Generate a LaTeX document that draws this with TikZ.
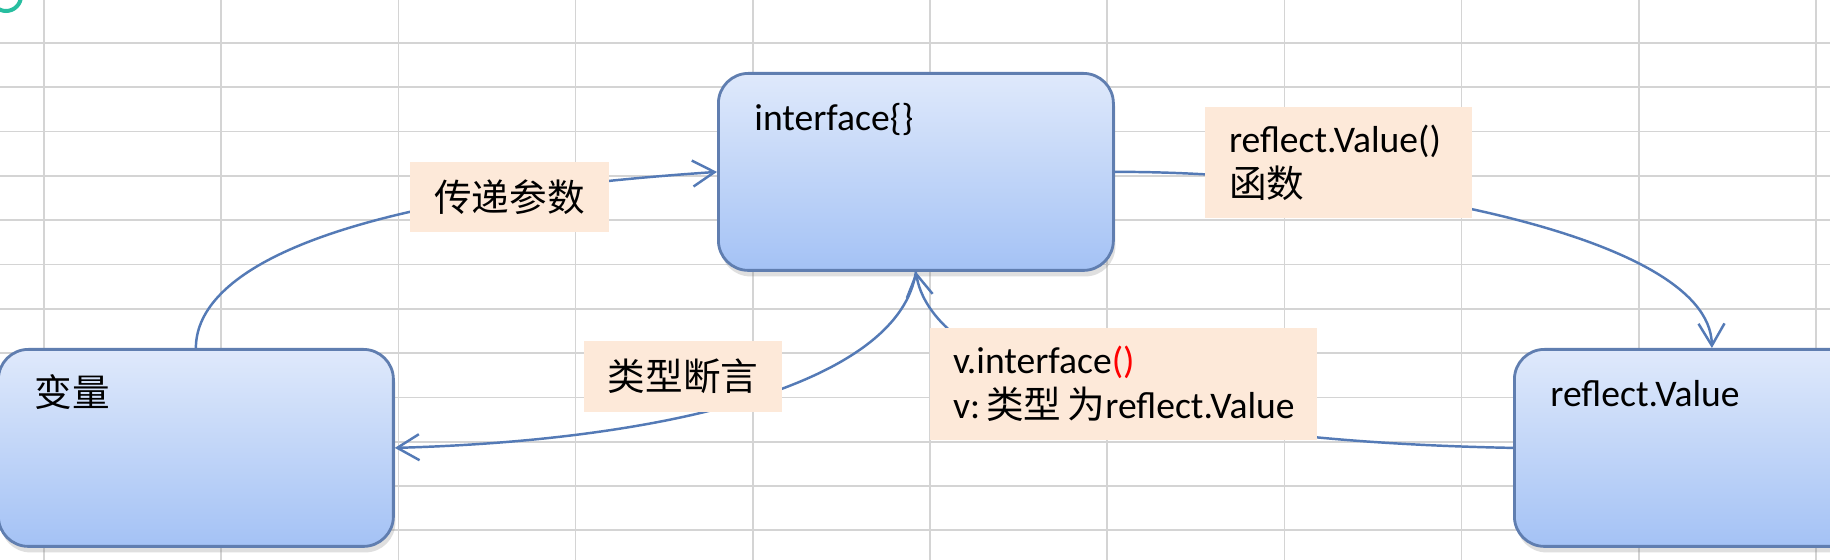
\documentclass[tikz,border=0pt]{standalone}
\usepackage{fontspec}
\setmainfont{Carlito}
\newfontfamily\cjk{Noto Sans CJK SC}
\usepackage{tikz}
\usetikzlibrary{arrows.meta,positioning,shadows}
\definecolor{gridcol}{RGB}{212,212,212}
\definecolor{boxtop}{RGB}{223,233,251}
\definecolor{boxbot}{RGB}{164,194,245}
\definecolor{boxline}{RGB}{96,126,176}
\definecolor{tagcol}{RGB}{253,233,217}
\definecolor{flowcol}{RGB}{84,122,182}
\definecolor{ringcol}{RGB}{40,190,160}
\newcommand\diafont{\fontsize{10.7pt}{12.8pt}\selectfont}
\tikzset{
  state/.style   ={rectangle, rounded corners=3mm, draw=boxline, line width=0.8pt,
                   top color=boxtop, bottom color=boxbot, anchor=north west,
                   minimum width=39.5mm, text width=32.3mm, align=left,
                   inner xsep=3.6mm, inner ysep=0pt, text height=5.7mm, text depth=14mm,
                   font=\diafont,
                   drop shadow={shadow xshift=0.2mm, shadow yshift=-0.6mm, opacity=0.25}},
  tag/.style     ={rectangle, fill=tagcol, inner xsep=2.4mm, inner ysep=0pt, font=\diafont},
  flow/.style    ={draw=flowcol, line width=0.7pt, -{Straight Barb[length=2.2mm,width=2.6mm]}},
  gridline/.style={draw=gridcol, line width=0.5pt},
}

\begin{document}
\begin{tikzpicture}[x=0.1mm, y=-0.1mm]
    \useasboundingbox (0,0) rectangle (1830,560);
    \clip (0,0) rectangle (1830,560);
    \fill[white] (0,0) rectangle (1830,560);

    % sheet grid
    \foreach \gx in {0,...,10}
      \draw[gridline] ({44+177.2*\gx},0) -- ++(0,560);
    \foreach \gy in {0,...,11}
      \draw[gridline] (0,{43+44.3*\gy}) -- ++(1830,0);
    \draw[ringcol, line width=0.4mm] (6,-4) circle[radius=15];

    % states
    \node[state] (var)   at (-3,348)  {\cjk 变量};
    \node[state] (iface) at (717,72)  {interface\{\}};
    \node[state] (rv)    at (1513,348) {reflect.Value};

    % flows
    \draw[flow] (var.north) .. controls +(0,-67) and (300,200) .. (iface.west);
    \draw[flow] (iface.east) .. controls (1340,171) and (1710,230) .. (rv.north);
    \draw[flow] (rv.west) .. controls (1100,440) and (930,360) .. (iface.south);
    \draw[flow] (iface.south) .. controls (900,380) and (680,440) .. (var.east);

    % tags
    \node[tag, minimum width=19.3mm, minimum height=7mm, align=center]
      (passtag) at (509.5,197) {\cjk 传递参数};
    \node[tag, minimum width=19.4mm, minimum height=7.1mm, align=center]
      (asserttag) at (683,376.5) {\cjk 类型断言};
    \node[tag, text width=21.9mm, minimum height=11.1mm, align=left]
      (functag) at (1338.5,162.5) {reflect.Value()\\{\cjk 函数}};
    \node[tag, inner xsep=2.3mm, text width=34.1mm, minimum height=11.2mm, align=left]
      (casttag) at (1123.5,384)
      {\mbox{v.interface{\color{red}()}}\\\mbox{v:\,{\cjk 类型}\,{\cjk 为}reflect.Value}};
\end{tikzpicture}
\end{document}
